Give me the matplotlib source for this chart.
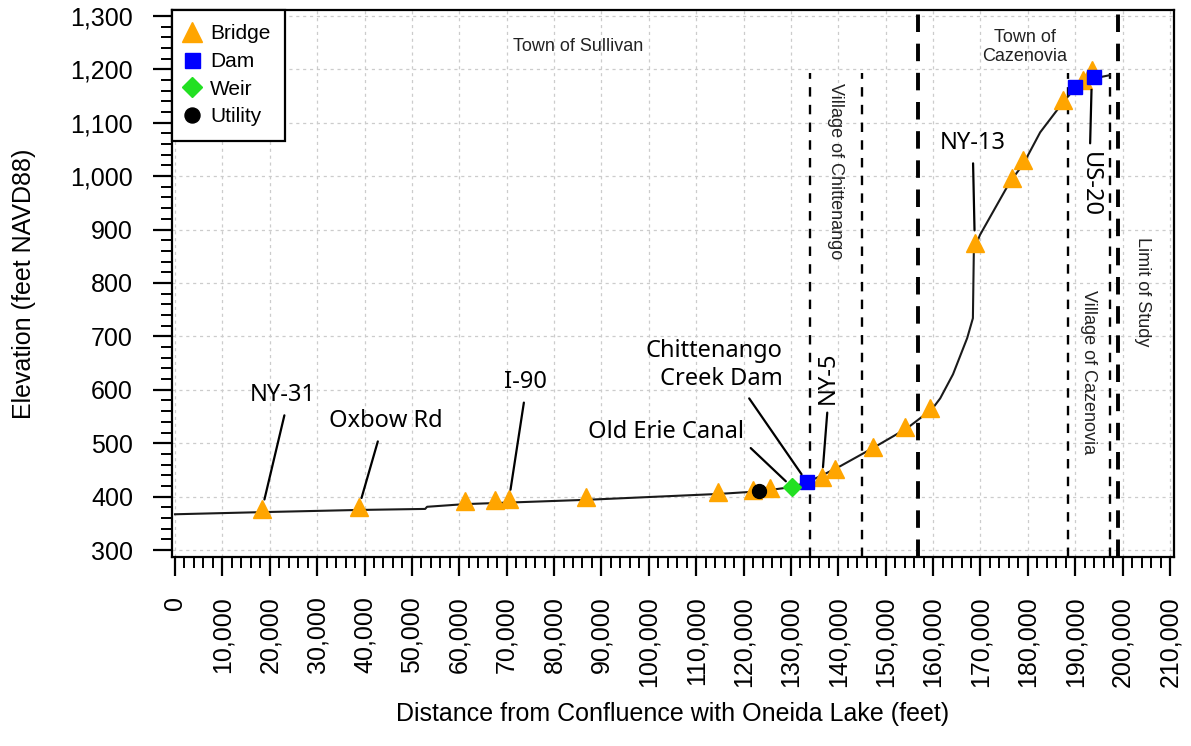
import matplotlib
matplotlib.use("Agg")
import matplotlib.pyplot as plt
from matplotlib.ticker import MultipleLocator, FuncFormatter

# Streambed profile of Chittenango Creek (distance ft, elevation ft NAVD88)
profile_dist = [0, 18400, 38400, 52800, 53200, 61200, 86700, 114600, 123500,
                130200, 133400, 136600, 140400, 147300, 154500, 159800, 161500,
                164200, 167200, 168400, 168600, 169900, 176200, 179000, 182600,
                187400, 190000, 194000, 197300]
profile_elev = [367, 371, 375, 377, 381, 386, 394, 405, 410,
                418, 427, 440, 457, 491, 528, 564, 584,
                629, 697, 734, 861, 890, 989, 1022, 1082,
                1138, 1165, 1183, 1189]

# Structures along the reach
bridge_dist = [18400, 38800, 61200, 67500, 70500, 86700, 114600, 122000, 125600,
               136600, 139300, 147300, 154100, 159300, 168800, 176700, 179000,
               187400, 191600, 193500]
bridge_elev = [377, 380, 392, 394, 395, 399, 409, 412, 416,
               437, 452, 493, 530, 566, 875, 996, 1030,
               1142, 1180, 1198]
dam_dist = [133400, 190000, 194000]
dam_elev = [427, 1167, 1185]
weir_dist = [130200]
weir_elev = [418]
utility_dist = [123300]
utility_elev = [410]

# Municipal boundaries and study limit
minor_boundaries = [134000, 145000, 188500, 197300]
major_boundaries = [156800, 199000]

# Named structures: label, (distance, elevation) of the structure, label anchor
structure_labels = [
    ("NY-31", (18400, 377), (22800, 590)),
    ("Oxbow Rd", (38800, 380), (44500, 541)),
    ("I-90", (70500, 395), (73900, 614)),
    ("Old Erie Canal", (130200, 418), (103600, 521)),
    ("Chittenango\nCreek Dam", (133400, 427), (128200, 646)),
    ("NY-5", (136600, 437), (137800, 622)),
    ("NY-13", (168800, 875), (168400, 1062)),
    ("US-20", (193500, 1185), (193100, 985)),
]

xticks = list(range(0, 210001, 10000))
yticks = list(range(300, 1301, 100))

TICK_FONT = "Liberation Sans"
NOTE_FONT = ["Noto Sans", "DejaVu Sans"]

fig = plt.figure(figsize=(11.91, 7.46), dpi=100)
ax = fig.add_axes([172 / 1191, 1 - 557 / 746, (1174 - 172) / 1191, (557 - 10) / 746])

ax.set_xlim(-633, 210844)
ax.set_ylim(287, 1311)

ax.xaxis.set_minor_locator(MultipleLocator(2000))
ax.yaxis.set_minor_locator(MultipleLocator(20))
ax.set_xticks(xticks)
ax.set_yticks(yticks)
fmt = FuncFormatter(lambda v, p: f"{v:,.0f}")
ax.xaxis.set_major_formatter(fmt)
ax.yaxis.set_major_formatter(fmt)

ax.grid(True, which="major", linestyle=(0, (2.5, 3)), color="#cccccc", linewidth=0.9, zorder=0)
ax.set_axisbelow(True)

for s in ax.spines.values():
    s.set_linewidth(1.6)

ax.tick_params(which="major", direction="out", length=14, width=1.6, pad=14)
ax.tick_params(which="minor", direction="out", length=8, width=1.4)
for lab in ax.get_xticklabels():
    lab.set_rotation(90)
    lab.set_fontfamily(TICK_FONT)
    lab.set_fontsize(18)
for lab in ax.get_yticklabels():
    lab.set_fontfamily(TICK_FONT)
    lab.set_fontsize(18)

ax.set_xlabel("Distance from Confluence with Oneida Lake (feet)", fontsize=18,
              family=TICK_FONT, labelpad=11)
ax.set_ylabel("Elevation (feet NAVD88)", fontsize=18, family=TICK_FONT, labelpad=25)

# Boundary lines
for xb in minor_boundaries:
    ax.plot([xb, xb], [287, 1193], color="black", lw=1.7, ls=(0, (4, 3.5)), zorder=2)
for xb in major_boundaries:
    ax.axvline(xb, color="black", lw=2.8, ls=(0, (4.5, 3)), zorder=2)

# Profile
ax.plot(profile_dist, profile_elev, color="#1a1a1a", lw=1.5, zorder=3)

ax.plot(bridge_dist, bridge_elev, ls="none", marker="^", ms=13, color="#FFA500",
        mec="#FFA500", label="Bridge", zorder=4)
ax.plot(dam_dist, dam_elev, ls="none", marker="s", ms=10, color="#0000FF",
        label="Dam", zorder=5)
ax.plot(weir_dist, weir_elev, ls="none", marker="D", ms=9, color="#22E022",
        label="Weir", zorder=5)
ax.plot(utility_dist, utility_elev, ls="none", marker="o", ms=10, color="black",
        label="Utility", zorder=5)

leg = ax.legend(loc="upper left", borderaxespad=0, fancybox=False, framealpha=1,
                edgecolor="black", prop={"family": TICK_FONT, "size": 15},
                handletextpad=0.55, labelspacing=0.42, borderpad=0.68,
                handlelength=0.6, markerscale=1.08)
leg.get_frame().set_linewidth(1.6)
leg.set_zorder(10)

# Structure labels with leader lines
label_style = {
    "NY-31": dict(rotation=0, relpos=(0.55, 0.0), shrinkB=7),
    "Oxbow Rd": dict(rotation=0, relpos=(0.45, 0.0), shrinkB=7),
    "I-90": dict(rotation=0, relpos=(0.5, 0.0), shrinkB=7),
    "Old Erie Canal": dict(rotation=0, relpos=(1.0, 0.1), shrinkB=6),
    "Chittenango\nCreek Dam": dict(rotation=0, relpos=(0.72, 0.0), shrinkB=7),
    "NY-5": dict(rotation=90, relpos=(0.5, 0.0), shrinkB=7),
    "NY-13": dict(rotation=0, relpos=(0.5, 0.0), shrinkB=9),
    "US-20": dict(rotation=270, relpos=(0.5, 1.0), shrinkB=9),
}
for text, (sx, sy), (tx, ty) in structure_labels:
    st = label_style[text]
    ax.annotate(text, xy=(sx, sy), xytext=(tx, ty), textcoords="data",
                ha="right" if text.startswith("Chittenango") else "center",
                va="center", multialignment="right", rotation=st["rotation"],
                family=NOTE_FONT, fontsize=17, color="black", zorder=6,
                arrowprops=dict(arrowstyle="-", color="black", lw=1.6,
                                relpos=st["relpos"], shrinkA=4, shrinkB=st["shrinkB"]))

# Jurisdiction names
area_font = dict(family=TICK_FONT, fontsize=13, color="#222222", zorder=6)
ax.text(85060, 1243, "Town of Sullivan", ha="center", va="center", **area_font)
ax.text(179400, 1242, "Town of\nCazenovia", ha="center", va="center",
        linespacing=1.2, **area_font)
ax.text(139500, 1009, "Village of Chittenango", rotation=270, ha="center",
        va="center", **area_font)
ax.text(192700, 633, "Village of Cazenovia", rotation=270, ha="center",
        va="center", **area_font)
ax.text(204100, 783, "Limit of Study", rotation=270, ha="center",
        va="center", **area_font)

fig.savefig("out.png", dpi=100)
